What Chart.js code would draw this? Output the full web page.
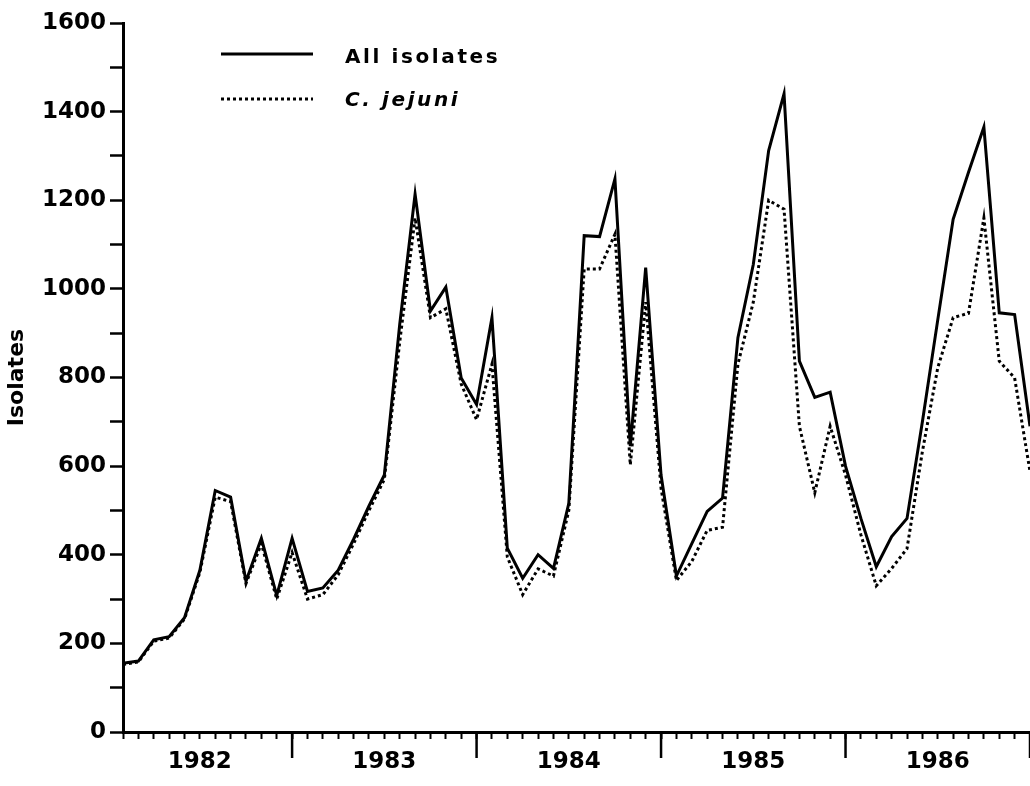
<!DOCTYPE html>
<html>
<head>
<meta charset="utf-8">
<title>Campylobacter isolates 1982-1986</title>
<script src="https://cdn.jsdelivr.net/npm/chart.js"></script>
<style>
  body { margin: 0; background: #fff; }
  canvas { display: block; }
</style>
</head>
<body>
<canvas id="canvas" width="1030" height="786"></canvas>
<script>
// monthly counts, Feb 1982 .. Jan 1987
var years = ['1982', '1983', '1984', '1985', '1986', '1987'];
var monthNames = ['Jan','Feb','Mar','Apr','May','Jun','Jul','Aug','Sep','Oct','Nov','Dec'];

var allIsolates = [
  155, 160, 208, 215, 258, 365, 545, 530, 340, 437, 308,
  437, 317, 325, 365, 435, 510, 580, 920, 1214, 950, 1004, 799,
  739, 935, 415, 347, 400, 369, 516, 1120, 1118, 1248, 645, 1048,
  580, 352, 425, 498, 528, 890, 1055, 1312, 1440, 837, 755, 767,
  600, 482, 373, 441, 482, 700, 930, 1157, 1263, 1365, 946, 942,
  690
];
var jejuni = [
  152, 158, 205, 212, 255, 360, 530, 520, 335, 425, 300,
  405, 300, 310, 355, 425, 500, 570, 880, 1160, 935, 955, 785,
  705, 830, 395, 310, 368, 352, 500, 1045, 1045, 1123, 603, 970,
  550, 342, 385, 455, 462, 830, 970, 1200, 1180, 690, 540, 690,
  580, 445, 330, 369, 414, 633, 822, 935, 945, 1160, 837, 799,
  588
];

// month labels, starting at Feb 1982
var months = [];
for (var i = 0; i < allIsolates.length; i++) {
  var k = i + 1;
  months.push(monthNames[k % 12] + ' ' + years[Math.floor(k / 12)]);
}

var font = "'DejaVu Sans', sans-serif";

// long ticks at each January, between the year labels
var yearTicks = {
  id: 'yearTicks',
  afterDraw: function(chart) {
    var ctx = chart.ctx;
    var x = chart.scales.x;
    var y0 = chart.chartArea.bottom;
    ctx.save();
    ctx.strokeStyle = '#000';
    ctx.lineWidth = 2.5;
    months.forEach(function(m, i) {
      if (m.indexOf('Jan') === 0) {
        var px = x.getPixelForValue(i);
        ctx.beginPath();
        ctx.moveTo(px, y0);
        ctx.lineTo(px, y0 + 26);
        ctx.stroke();
      }
    });
    ctx.restore();
  }
};

// legend drawn inside the plot, top left
var innerLegend = {
  id: 'innerLegend',
  afterDraw: function(chart) {
    var ctx = chart.ctx;
    var area = chart.chartArea;
    var x0 = area.left + 98;
    var rows = [31, 76];
    ctx.save();
    chart.data.datasets.forEach(function(ds, i) {
      var y = area.top + rows[i];
      ctx.strokeStyle = ds.borderColor;
      ctx.lineWidth = ds.borderWidth;
      ctx.setLineDash(ds.borderDash || []);
      ctx.beginPath();
      ctx.moveTo(x0, y);
      ctx.lineTo(x0 + 92, y);
      ctx.stroke();
      ctx.setLineDash([]);
      ctx.fillStyle = '#000';
      ctx.textBaseline = 'middle';
      ctx.letterSpacing = '2.6px';
      ctx.font = (i === 1 ? 'italic ' : '') + 'bold 20px ' + font;
      ctx.fillText(ds.label, x0 + 124, y + 4 - i * 2);
    });
    ctx.restore();
  }
};

const ctx = document.getElementById('canvas').getContext('2d');
const myChart = new Chart(ctx, {
  type: 'line',
  data: {
    labels: months,
    datasets: [{
      label: 'All isolates',
      data: allIsolates,
      borderColor: '#000',
      borderWidth: 3,
      pointRadius: 0,
      tension: 0
    }, {
      label: 'C. jejuni',
      data: jejuni,
      borderColor: '#000',
      borderWidth: 3,
      borderDash: [3, 3],
      pointRadius: 0,
      tension: 0
    }]
  },
  options: {
    responsive: false,
    animation: false,
    layout: { padding: { top: 23, right: 0, bottom: 0, left: 0 } },
    plugins: {
      legend: { display: false },
      tooltip: { enabled: false }
    },
    scales: {
      x: {
        type: 'category',
        offset: false,
        grid: { drawOnChartArea: false, tickLength: 7, tickWidth: 2, tickColor: '#000' },
        border: { display: true, width: 3, color: '#000' },
        ticks: {
          autoSkip: false,
          maxRotation: 0,
          minRotation: 0,
          padding: 9,
          color: '#000',
          font: { family: font, size: 23, weight: 'bold' },
          callback: function(val, i) {
            var m = months[i];
            return m.indexOf('Jul') === 0 ? m.slice(4) : '';
          }
        },
        afterFit: function(scale) {
          scale.height = 54;
          // let the axis run to the canvas edge
          scale.paddingLeft = 0;
          scale.paddingRight = 0;
        }
      },
      y: {
        min: 0,
        max: 1600,
        grid: { drawOnChartArea: false, tickLength: 13, tickWidth: 2.5, tickColor: '#000' },
        border: { display: true, width: 3, color: '#000' },
        ticks: {
          stepSize: 100,
          padding: 4,
          color: '#000',
          font: { family: font, size: 23, weight: 'bold' },
          callback: function(v) { return v % 200 === 0 ? v : ''; }
        },
        title: {
          display: true,
          text: 'Isolates',
          color: '#000',
          padding: { top: 4, bottom: 0 },
          font: { family: font, size: 22, weight: 'bold' }
        },
        afterFit: function(scale) { scale.width = 123; }
      }
    }
  },
  plugins: [yearTicks, innerLegend]
});
</script>
</body>
</html>
